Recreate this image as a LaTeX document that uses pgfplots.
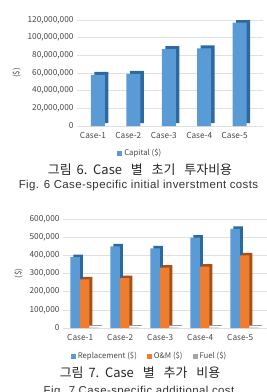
\documentclass[border=0pt]{standalone}
\usepackage{pgfplots}
\pgfplotsset{compat=1.18}
\usepackage{fontspec}
\setmainfont{Liberation Sans}
\newfontfamily\kr{Noto Sans CJK KR}
\newfontfamily\figfont[LetterSpace=3.5]{Liberation Sans}
\definecolor{cblue}{RGB}{91,155,213}
\definecolor{cblueD}{RGB}{46,104,160}
\definecolor{corange}{RGB}{237,125,49}
\definecolor{corangeD}{RGB}{168,80,22}
\definecolor{cgray}{RGB}{165,165,165}
\definecolor{cgrayD}{RGB}{105,105,105}
\definecolor{ticktext}{RGB}{70,70,70}
\pgfplotsset{
  mystyle/.style={
    scale only axis,
    axis line style={draw=none},
    major tick length=0pt,
    ymajorgrids,
    grid style={draw=black!12, line width=0.6pt},
    ymin=0,
    scaled y ticks=false,
    tick label style={font=\kr\fontsize{8.3}{9}\selectfont, text=ticktext},
    yticklabel style={/pgf/number format/fixed, /pgf/number format/1000 sep={,}, /pgf/number format/assume math mode=true},
    xticklabel style={yshift=-2.5bp},
    xtick={0,1,2,3,4},
    xticklabels={Case-1,Case-2,Case-3,Case-4,Case-5},
    ylabel={(\$)},
    ylabel style={font=\kr\fontsize{8}{9}\selectfont, text=ticktext},
    legend style={draw=none, fill=none, legend columns=-1, font=\kr\fontsize{7.8}{9}\selectfont, text=ticktext,
      /tikz/every even column/.append style={column sep=8bp}},
  },
  sq legend/.style={legend image code/.code={\fill[##1] (0bp,-2.5bp) rectangle (5bp,2.5bp);}},
}
\begin{document}
\begin{tikzpicture}
\path[use as bounding box] (0bp,0bp) rectangle (267bp,-392bp);
% ---------- Chart 1 ----------
\begin{axis}[mystyle,
  at={(77bp,-126bp)}, anchor=south west,
  width=186bp, height=106bp,
  xmin=-0.45, xmax=4.8,
  ymax=120000000,
  ytick={0,20000000,40000000,60000000,80000000,100000000,120000000},
  ybar, bar width=14bp, sq legend,
  legend style={at={(axis description cs:0.34,-0.255)}, anchor=center},
]
\addplot[forget plot, fill=cblueD, draw=none, bar shift=5bp, xshift=3.5bp, yshift=3bp]
  coordinates {(0,58000000) (1,59000000) (2,87000000) (3,88000000) (4,117000000)};
\addplot[fill=cblue, draw=none, bar shift=5bp]
  coordinates {(0,58000000) (1,59000000) (2,87000000) (3,88000000) (4,117000000)};
\addlegendentry{Capital (\$)}
\end{axis}
\node[font=\kr\fontsize{13}{15}\selectfont, text=black!85] at (140bp,-170bp) {그림\hspace{2bp} 6.\ \ Case\hspace{6bp} 별\hspace{6bp} 초기\hspace{6bp} 투자비용};
\node[font=\figfont\fontsize{11.5}{13}\selectfont, text=black!80] at (138.5bp,-186bp) {Fig. 6 Case-specific initial inverstment costs};
% ---------- Chart 2 ----------
\begin{axis}[mystyle,
  at={(63bp,-328bp)}, anchor=south west,
  width=206bp, height=109bp,
  xmin=-0.43, xmax=4.72,
  ymax=600000,
  ytick={0,100000,200000,300000,400000,500000,600000},
  ybar, bar width=9.5bp, sq legend,
  legend style={at={(axis description cs:0.42,-0.26)}, anchor=center},
]
\addplot[forget plot, fill=cblueD, draw=none, bar shift=-5bp, xshift=3bp, yshift=2.5bp]
  coordinates {(0,390000) (1,450000) (2,438000) (3,498000) (4,545000)};
\addplot[forget plot, fill=corangeD, draw=none, bar shift=4.5bp, xshift=3bp, yshift=2.5bp]
  coordinates {(0,268000) (1,275000) (2,332000) (3,338000) (4,400000)};
\addplot[forget plot, fill=cgrayD, draw=none, bar shift=14bp, xshift=3bp, yshift=2.5bp]
  coordinates {(0,2000) (1,2000) (2,2000) (3,2000) (4,2000)};
\addplot[fill=cblue, draw=none, bar shift=-5bp]
  coordinates {(0,390000) (1,450000) (2,438000) (3,498000) (4,545000)};
\addlegendentry{Replacement (\$)}
\addplot[fill=corange, draw=none, bar shift=4.5bp]
  coordinates {(0,268000) (1,275000) (2,332000) (3,338000) (4,400000)};
\addlegendentry{O\&M (\$)}
\addplot[fill=cgray, draw=none, bar shift=14bp]
  coordinates {(0,2000) (1,2000) (2,2000) (3,2000) (4,2000)};
\addlegendentry{Fuel (\$)}
\end{axis}
\node[font=\kr\fontsize{13}{15}\selectfont, text=black!85] at (140bp,-373bp) {그림\hspace{2bp} 7.\ \ Case\hspace{6bp} 별\hspace{6bp} 추가\hspace{6bp} 비용};
\node[font=\figfont\fontsize{11.5}{13}\selectfont, text=black!80, anchor=base] at (139bp,-394bp) {Fig. 7 Case-specific additional cost};
\end{tikzpicture}
\end{document}
